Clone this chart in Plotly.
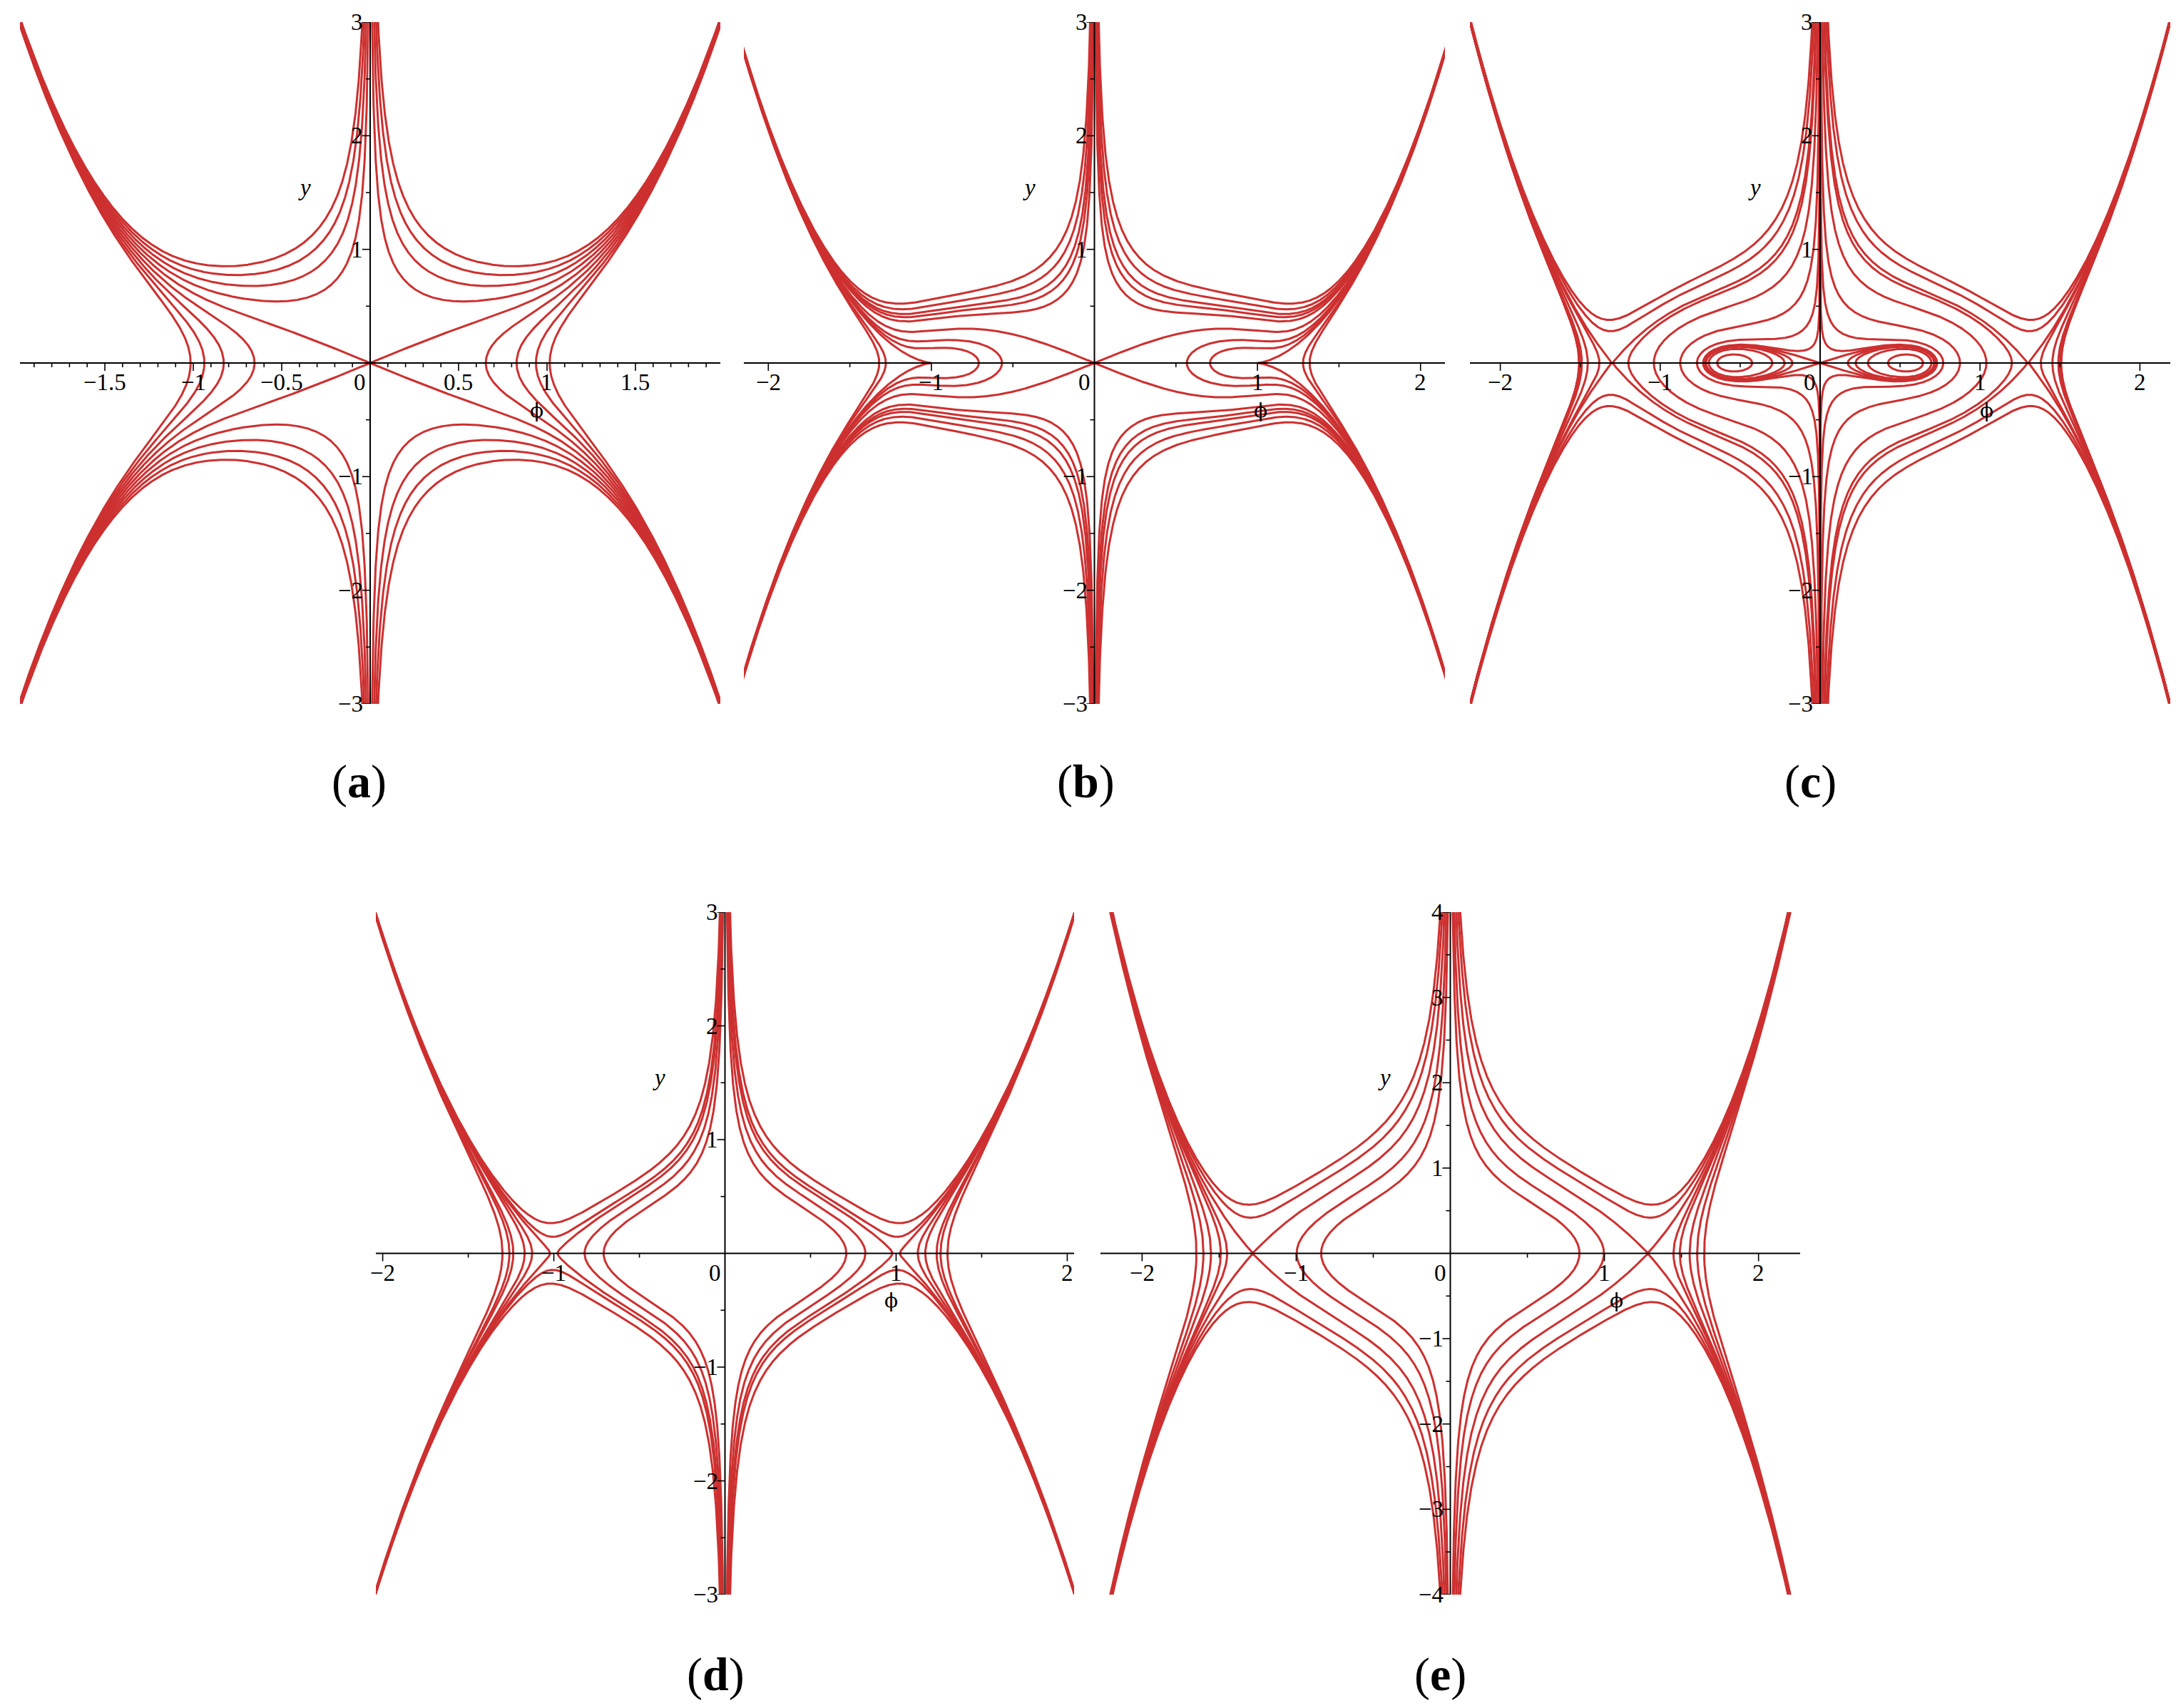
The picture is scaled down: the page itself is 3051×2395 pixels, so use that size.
import numpy as np
import plotly.graph_objects as go

W, H = 3051, 2395

# ---------------- data ----------------
# Level curves of the first integral:  y^2 = h/|phi| + G(|phi|)
# G(phi) = g1*phi^2 + g2*phi^4 + g3*phi^6 + g4*phi^8   (coefficients)
G_a = [0.419, -0.219, 0.178, 0.0]
G_b = [0.35, -0.42, 0.15, 0.0]
G_c = [0.207, -0.4843, 0.1736, 0.0]
G_d = [-0.33, 0.0, 0.141, 0.0]
G_e = [-0.436, 0.0, 0.0, 0.033]

# level values h drawn in each panel
H_a = [-0.4, -0.3, -0.2, -0.1, 0.0, 0.1, 0.2, 0.3, 0.4]
H_b = [-0.169, -0.135, -0.08, -0.063, -0.042, 0.0, 0.067, 0.1, 0.127, 0.172, 0.23]
H_c = [-0.0096, -0.0044, -0.002, -0.001, 0.0, 0.001, 0.0088, 0.0415, 0.128, 0.225, 0.254, 0.356, 0.442]
H_d = [-0.16, -0.05, 0.0, 0.105, 0.147, 0.188, 0.21, 0.26]
H_e = [-1.0, -0.5, -0.1, 0.25, 0.4, 0.61, 0.835, 1.03]

# axis ranges
XR_a, YR_a = [-1.98, 1.98], [-3, 3]
XR_b, YR_b = [-2.15, 2.15], [-3, 3]
XR_c, YR_c = [-2.19, 2.19], [-3, 3]
XR_d, YR_d = [-2.04, 2.04], [-3, 3]
XR_e, YR_e = [-2.27, 2.27], [-4, 4]

# ticks
XT_a = [-1.5, -1, -0.5, 0.5, 1, 1.5]
XTL_a = ["\u22121.5", "\u22121", "\u22120.5", "0.5", "1", "1.5"]
XT_2 = [-2, -1, 1, 2]
XTL_2 = ["\u22122", "\u22121", "1", "2"]
YT_3 = [-3, -2, -1, 1, 2, 3]
YTL_3 = ["\u22123", "\u22122", "\u22121", "1", "2", "3"]
YT_4 = [-4, -3, -2, -1, 1, 2, 3, 4]
YTL_4 = ["\u22124", "\u22123", "\u22122", "\u22121", "1", "2", "3", "4"]
XMINOR_a, XMINOR_2, YMINOR = 0.1, 0.5, 0.5

LABELS = ["a", "b", "c", "d", "e"]

# ---------------- layout (pixel boxes of the five plot areas) ----------------
BOX = [(20, 1002, 23, 979), (1035, 2018, 23, 979), (2053, 3035, 23, 979),
       (519, 1498, 1271, 2228), (1535, 2516, 1271, 2228)]
LABEL_POS = [(495, 1088), (1514, 1088), (2530, 1088), (996, 2340), (2012, 2340)]

panels = [
    dict(G=G_a, H=H_a, xr=XR_a, yr=YR_a, xt=XT_a, xtl=XTL_a, yt=YT_3, ytl=YTL_3, xm=XMINOR_a),
    dict(G=G_b, H=H_b, xr=XR_b, yr=YR_b, xt=XT_2, xtl=XTL_2, yt=YT_3, ytl=YTL_3, xm=XMINOR_2),
    dict(G=G_c, H=H_c, xr=XR_c, yr=YR_c, xt=XT_2, xtl=XTL_2, yt=YT_3, ytl=YTL_3, xm=XMINOR_2),
    dict(G=G_d, H=H_d, xr=XR_d, yr=YR_d, xt=XT_2, xtl=XTL_2, yt=YT_3, ytl=YTL_3, xm=XMINOR_2),
    dict(G=G_e, H=H_e, xr=XR_e, yr=YR_e, xt=XT_2, xtl=XTL_2, yt=YT_4, ytl=YTL_4, xm=XMINOR_2),
]

RED = "rgb(205,48,48)"
FONT = "Liberation Serif, Times New Roman, serif"
TICKFS = 33


def G_eval(coefs, p):
    u = p * p
    return sum(c * u ** (j + 1) for j, c in enumerate(coefs))


def level_pieces(coefs, h, pmax, ycap):
    p = np.unique(np.concatenate([np.geomspace(1e-6, 0.06, 300),
                                  np.linspace(0.06, pmax, 1400)]))
    F = h / p + G_eval(coefs, p)
    ok = F >= 0
    n = len(p)
    pieces = []
    i = 0
    while i < n:
        if not ok[i]:
            i += 1
            continue
        j = i
        while j + 1 < n and ok[j + 1]:
            j += 1
        x = p[i:j + 1]
        y = np.sqrt(np.minimum(F[i:j + 1], ycap ** 2))
        lroot = rroot = None
        if i > 0:
            f0, f1 = F[i - 1], F[i]
            lroot = p[i - 1] + (0 - f0) * (p[i] - p[i - 1]) / (f1 - f0)
        if j < n - 1:
            f0, f1 = F[j], F[j + 1]
            rroot = p[j] + (0 - f0) * (p[j + 1] - p[j]) / (f1 - f0)
        if lroot is not None:
            x = np.r_[lroot, x]
            y = np.r_[0.0, y]
        if rroot is not None:
            x = np.r_[x, rroot]
            y = np.r_[y, 0.0]
        if lroot is not None and rroot is not None:
            pieces.append((np.r_[x, x[::-1][1:]], np.r_[y, -y[::-1][1:]]))
        elif lroot is not None:
            pieces.append((np.r_[x[::-1], x[1:]], np.r_[-y[::-1], y[1:]]))
        elif rroot is not None:
            pieces.append((np.r_[x, x[::-1][1:]], np.r_[y, -y[::-1][1:]]))
        else:
            pieces.append((x, y))
            pieces.append((x, -y))
        i = j + 1
    return pieces


fig = go.Figure()
layout = dict(width=W, height=H, paper_bgcolor="white", plot_bgcolor="white",
              margin=dict(l=0, r=0, t=0, b=0), showlegend=False)
annotations = []
shapes = []

for k, pn in enumerate(panels):
    xa = "x" if k == 0 else f"x{k + 1}"
    ya = "y" if k == 0 else f"y{k + 1}"
    L, R, T, B = BOX[k]
    xr, yr = pn["xr"], pn["yr"]
    layout["xaxis" if k == 0 else f"xaxis{k + 1}"] = dict(
        domain=[L / W, R / W], range=xr, showgrid=False, zeroline=False,
        showticklabels=False, ticks="", showline=False, anchor=ya, fixedrange=True)
    layout["yaxis" if k == 0 else f"yaxis{k + 1}"] = dict(
        domain=[1 - B / H, 1 - T / H], range=yr, showgrid=False, zeroline=False,
        showticklabels=False, ticks="", showline=False, anchor=xa, fixedrange=True)

    # curves
    X, Y = [], []
    pmax = max(abs(xr[0]), abs(xr[1])) * 1.02
    ycap = max(abs(yr[0]), abs(yr[1])) * 1.6
    for h in pn["H"]:
        for (px_, py_) in level_pieces(pn["G"], h, pmax, ycap):
            for sgn in (1, -1):
                X.extend(np.round(sgn * px_, 5).tolist()); X.append(None)
                Y.extend(np.round(py_, 5).tolist()); Y.append(None)
    fig.add_trace(go.Scatter(x=X, y=Y, mode="lines", xaxis=xa, yaxis=ya,
                             line=dict(color=RED, width=3), hoverinfo="skip"))

    # axes through the origin
    shapes.append(dict(type="line", xref=xa, yref=ya, x0=xr[0], x1=xr[1], y0=0, y1=0,
                       line=dict(color="black", width=2), layer="above"))
    shapes.append(dict(type="line", xref=xa, yref=ya, x0=0, x1=0, y0=yr[0], y1=yr[1],
                       line=dict(color="black", width=2), layer="above"))

    # tick marks
    ppx = (R - L) / (xr[1] - xr[0])
    ppy = (B - T) / (yr[1] - yr[0])
    tx, ty = [], []
    xm = pn["xm"]
    nmin = int(np.floor(xr[0] / xm)); nmax = int(np.ceil(xr[1] / xm))
    for m in range(nmin, nmax + 1):
        v = round(m * xm, 6)
        if v == 0 or v < xr[0] or v > xr[1]:
            continue
        major = any(abs(v - t) < 1e-9 for t in pn["xt"])
        ln = (11 if major else 6) / ppy
        tx += [v, v, None]; ty += [0, -ln, None]
    nmin = int(np.floor(yr[0] / YMINOR)); nmax = int(np.ceil(yr[1] / YMINOR))
    for m in range(nmin, nmax + 1):
        v = round(m * YMINOR, 6)
        if v == 0 or v < yr[0] or v > yr[1]:
            continue
        major = any(abs(v - t) < 1e-9 for t in pn["yt"])
        ln = (11 if major else 6) / ppx
        tx += [0, -ln, None]; ty += [v, v, None]
    fig.add_trace(go.Scatter(x=tx, y=ty, mode="lines", xaxis=xa, yaxis=ya,
                             line=dict(color="black", width=1.6), hoverinfo="skip"))

    # tick labels
    for v, t in zip(pn["xt"], pn["xtl"]):
        annotations.append(dict(xref=xa, yref=ya, x=v, y=0, text=t, showarrow=False,
                                xanchor="center", yanchor="top", yshift=-7,
                                font=dict(family=FONT, size=TICKFS, color="black")))
    for v, t in zip(pn["yt"], pn["ytl"]):
        annotations.append(dict(xref=xa, yref=ya, x=0, y=v, text=t, showarrow=False,
                                xanchor="right", yanchor="middle", xshift=-8,
                                font=dict(family=FONT, size=TICKFS, color="black")))
    annotations.append(dict(xref=xa, yref=ya, x=0, y=0, text="0", showarrow=False,
                            xanchor="right", yanchor="top", xshift=-4, yshift=-7,
                            font=dict(family=FONT, size=TICKFS, color="black")))

    # axis titles
    ox = L + (0 - xr[0]) * ppx
    oy = T + (yr[1] - 0) * ppy
    annotations.append(dict(xref="paper", yref="paper", x=(ox - 92) / W, y=1 - (T + 232) / H,
                            text="<i>y</i>", showarrow=False, xanchor="center", yanchor="middle",
                            font=dict(family=FONT, size=TICKFS, color="black")))
    annotations.append(dict(xref="paper", yref="paper", x=(ox + 233) / W, y=1 - (oy + 66) / H,
                            text="\u03d5", showarrow=False, xanchor="center", yanchor="middle",
                            font=dict(family="DejaVu Serif, serif", size=28, color="black")))

    # panel label
    lx, ly = LABEL_POS[k]
    annotations.append(dict(xref="paper", yref="paper", x=lx / W, y=1 - ly / H,
                            text=f"(<b>{LABELS[k]}</b>)", showarrow=False,
                            xanchor="center", yanchor="middle",
                            font=dict(family=FONT, size=66, color="black")))

layout["annotations"] = annotations
layout["shapes"] = shapes
fig.update_layout(**layout)
fig.write_html("out.html")
